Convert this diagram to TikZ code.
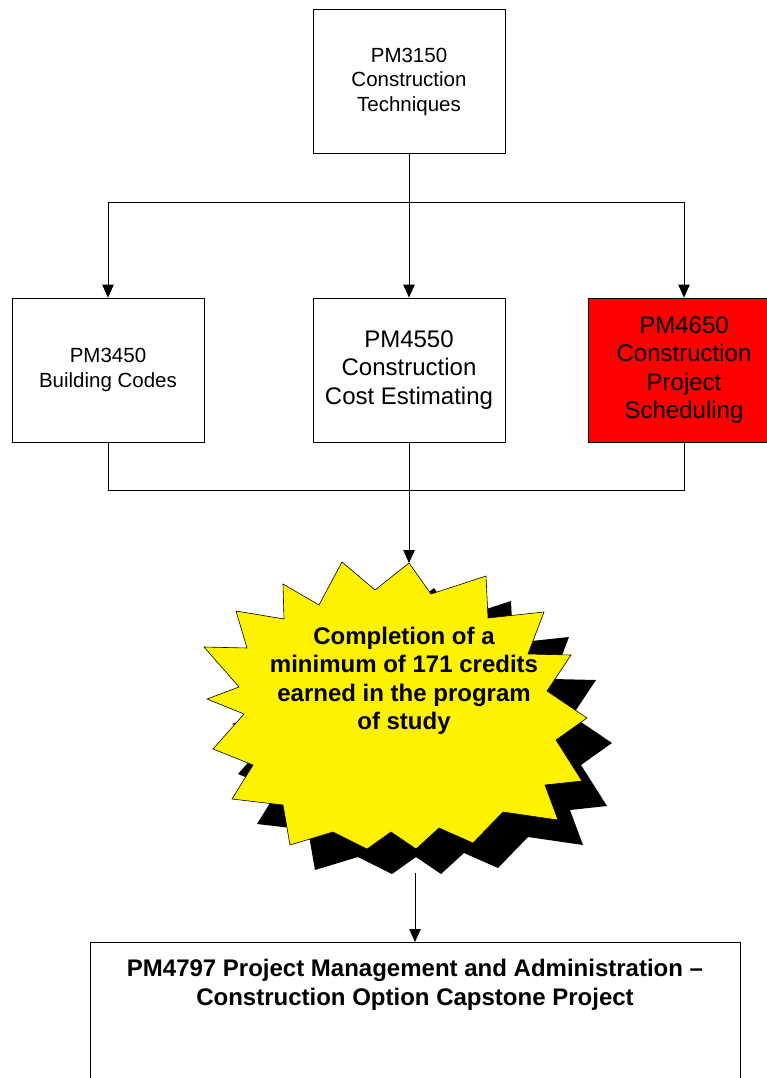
\documentclass[tikz,border=0pt]{standalone}
\usepackage{fontspec}
\setmainfont{Liberation Sans}
\usetikzlibrary{arrows.meta}
\newcommand\starburstpath[1]{%
\path[#1] (409,563) -- (431,594) -- (486,576) -- (488,618) -- (544,612) -- (528,654) -- (571,655) -- (547,691) -- (587,718) -- (556,740) -- (582,781) -- (545,785) -- (558,820) -- (503,812) -- (473,843) -- (439,828) -- (416,849) -- (391,832) -- (367,849) -- (333,832) -- (290,845) -- (283,805) -- (232,799) -- (253,765) -- (213,749) -- (244,714) -- (207,699) -- (239,687) -- (204,647) -- (247,648) -- (236,611) -- (284,619) -- (283,584) -- (319,605) -- (342,562) -- (375,590) -- cycle;}
\begin{document}
\begin{tikzpicture}[x=1pt,y=-1pt,
  box/.style={draw=black, line width=0.8pt, minimum width=192pt, minimum height=144pt, align=center, inner sep=0pt},
  conn/.style={line width=0.8pt, draw=black},
  arr/.style={conn, -{Triangle[length=13pt,width=11.5pt]}},
  fa/.style={font=\fontsize{20.5}{24.5}\selectfont},
  fb/.style={font=\fontsize{24}{28.5}\selectfont},
  fbold/.style={font=\bfseries\fontsize{24}{28.5}\selectfont}
]
\clip (0,0) rectangle (767,1078);
\fill[white] (0,0) rectangle (767,1078);
% boxes
\node[box, fa] (top) at (409,81.5) {PM3150\\Construction\\Techniques};
\node[box, fa] (b1) at (108,370) {PM3450\\Building Codes};
\node[box, fb] (b2) at (409,370) {PM4550\\Construction\\Cost Estimating};
\node[box, fb, fill=red] (b3) at (684,370) {PM4650\\Construction\\Project\\Scheduling};
% connectors top
\coordinate (j1) at (409,202);
\draw[conn] (top.south) -- (j1);
\draw[arr] (j1) -| (b1.north);
\draw[arr] (j1) -| (b3.north);
\draw[arr] (j1) -- (b2.north);
% connectors bottom
\coordinate (j2) at (409,490);
\draw[conn] (b1.south) |- (j2);
\draw[conn] (b3.south) |- (j2);
\coordinate (stop) at (409,563);
\draw[arr] (b2.south) -- (stop);
% starburst
\starburstpath{fill=black, shift={(25,25)}}
\starburstpath{draw=black, fill=yellow, line width=0.6pt}
\node[fbold, align=center] (startext) at (404,681) {Completion of a\\minimum of 171 credits\\earned in the program\\of study};
% bottom box
\coordinate (sbot) at (415,873);
\node[draw=black, line width=0.8pt, minimum width=650pt, minimum height=200pt, anchor=north, inner sep=0pt] (cap) at (415,942) {};
\node[font=\bfseries\fontsize{24}{29}\selectfont, align=center] (captext) at (415,985) {PM4797 Project Management and Administration –\\Construction Option Capstone Project};
\draw[arr] (sbot) -- (cap.north);
\end{tikzpicture}
\end{document}
